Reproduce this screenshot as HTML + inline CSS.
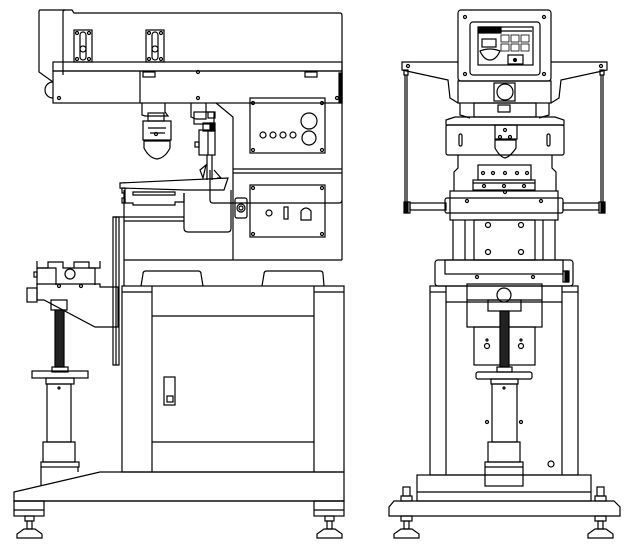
<!DOCTYPE html>
<html><head><meta charset="utf-8"><style>
html,body{margin:0;padding:0;background:#fff;width:633px;height:551px;overflow:hidden}
svg{display:block}
</style></head><body>
<svg width="633" height="551" viewBox="0 0 633 551" xmlns="http://www.w3.org/2000/svg" fill="none" stroke="#000" stroke-width="1.2" font-family="Liberation Sans, sans-serif">
<!-- ================= LEFT MACHINE ================= -->
<path d="M63 75 L63 12 Q63 10 65 10 L40 10 Q39 10 39 12 L39 72 L53 82"/>
<path d="M63 10 L72 10 L74 13 L340 13 Q342 13 342 16 L342 260"/>
<rect x="53" y="62" width="289" height="9"/>
<rect x="53" y="71" width="289" height="32"/>
<line x1="140" y1="71" x2="140" y2="103"/>
<path d="M53 82 A7 7 0 0 0 53 98"/>
<rect x="339" y="73" width="3" height="30" fill="#000"/>
<circle cx="59" cy="98" r="1.5"/><circle cx="198" cy="98" r="1.5"/><circle cx="337" cy="98" r="1.5"/><circle cx="198" cy="72" r="1.5"/>
<rect x="143" y="72" width="12" height="5"/><rect x="305" y="72" width="12" height="5"/>
<g><rect x="74" y="30" width="18" height="32"/><rect x="80" y="32" width="6" height="28" rx="3"/><circle cx="83" cy="49" r="3"/>
<circle cx="77" cy="33" r="1.5"/><circle cx="89" cy="33" r="1.5"/><circle cx="77" cy="59" r="1.5"/><circle cx="89" cy="59" r="1.5"/></g>
<g transform="translate(72 0)"><rect x="74" y="30" width="18" height="32"/><rect x="80" y="32" width="6" height="28" rx="3"/><circle cx="83" cy="49" r="3"/>
<circle cx="77" cy="33" r="1.5"/><circle cx="89" cy="33" r="1.5"/><circle cx="77" cy="59" r="1.5"/><circle cx="89" cy="59" r="1.5"/></g>
<rect x="250" y="98" width="75" height="55"/>
<circle cx="253" cy="103" r="1.5"/><circle cx="322" cy="103" r="1.5"/><circle cx="253" cy="150" r="1.5"/><circle cx="322" cy="150" r="1.5"/>
<circle cx="309" cy="121" r="8"/><circle cx="309" cy="138" r="7"/>
<circle cx="263" cy="135" r="3"/><circle cx="273" cy="135" r="3"/><circle cx="283" cy="135" r="3"/><circle cx="293" cy="135" r="3"/>
<path d="M216 103 L233 117 L233 260"/>
<line x1="233" y1="169" x2="342" y2="169"/><line x1="233" y1="173" x2="342" y2="173"/>
<path d="M210 170 L210 200 Q210 203 213 203 L339 203 Q342 203 342 200"/>
<rect x="250" y="185" width="75" height="52"/>
<circle cx="253" cy="188" r="1.5"/><circle cx="322" cy="188" r="1.5"/><circle cx="253" cy="234" r="1.5"/><circle cx="322" cy="234" r="1.5"/>
<circle cx="269" cy="213" r="3"/><rect x="284" y="207" width="4" height="12"/>
<path d="M301 220 L301 211 Q306 205 311 211 L311 220 Z"/>
<rect x="235" y="198" width="12" height="20" rx="2"/><circle cx="241" cy="208" r="4"/><circle cx="241" cy="208" r="2"/>
<path d="M142 103 L142 115 L145 116 L168 116 L165 112 L165 103"/>
<rect x="148" y="113" width="16" height="8"/>
<path d="M143 121 L171 121 L171 140 L143 140 Z"/>
<path d="M148 128 L166 128 M150 133 L165 133"/><circle cx="156" cy="134" r="1.5"/>
<path d="M144 141 L170 141 L170 148 Q165 158 157 159 Q149 158 144 148 Z"/>
<path d="M191 103 L191 117 L196 119 L206 119 L206 103"/>
<rect x="194" y="112" width="20" height="12"/><rect x="208" y="112" width="7" height="6"/>
<rect x="203" y="123" width="12" height="8"/><rect x="210" y="123" width="4" height="8" fill="#000"/>
<rect x="199" y="130" width="16" height="25"/><line x1="208" y1="131" x2="208" y2="155"/>
<rect x="195" y="142" width="4" height="5"/>
<path d="M207 155 L207 180 M212 155 L212 180"/>
<path d="M200 170 L206 165 L203 178 Z"/><path d="M214 170 L221 178 L217 178"/>
<path d="M120 183 L228 178 L224 190 L186 190 L120 188 Z"/>
<rect x="122" y="188" width="3" height="5"/><rect x="122" y="198" width="3" height="5"/>
<path d="M133 192 L175 192 L175 195 L133 195 Z"/>
<path d="M125 193 L125 203 L133 203 L133 205 L175 205 L175 202 L184 202 L184 193"/>
<path d="M184 193 L184 228 Q184 232 188 232 L228 232 Q231 232 231 228 L231 190"/>
<path d="M113 217 L113 365 L119 365 L119 217 Z"/>
<line x1="116" y1="217" x2="116" y2="365"/>
<line x1="113" y1="217" x2="184" y2="217"/><line x1="124" y1="221" x2="184" y2="221"/>
<line x1="124" y1="190" x2="124" y2="286"/>
<line x1="124" y1="260" x2="342" y2="260"/>
<path d="M141 286 L143 274 Q143 271 146 271 L198 271 Q201 271 201 274 L203 286"/>
<path d="M262 286 L264 274 Q264 271 267 271 L320 271 Q323 271 323 274 L324 286"/>
<rect x="122" y="286" width="222" height="186"/>
<line x1="152" y1="286" x2="152" y2="472"/><line x1="314" y1="286" x2="314" y2="472"/>
<line x1="122" y1="292" x2="152" y2="292"/><line x1="314" y1="292" x2="344" y2="292"/>
<line x1="152" y1="316" x2="314" y2="316"/><line x1="152" y1="442" x2="314" y2="442"/>
<rect x="164" y="377" width="11" height="28"/><rect x="167" y="396" width="6" height="6"/>
<path d="M14 501 L14 492 L100 472 L344 472 L344 501 Z"/>
<line x1="14" y1="501" x2="344" y2="501"/>
<rect x="14" y="501" width="30" height="15"/><line x1="14" y1="510" x2="44" y2="510"/>
<rect x="314" y="501" width="30" height="15"/><line x1="314" y1="510" x2="344" y2="510"/>
<g><rect x="25" y="516" width="9" height="5"/><rect x="27" y="521" width="5" height="8"/><path d="M17 538 L17 534 L24 529 L35 529 L42 534 L42 538 Z"/></g>
<g transform="translate(300 0)"><rect x="25" y="516" width="9" height="5"/><rect x="27" y="521" width="5" height="8"/><path d="M17 538 L17 534 L24 529 L35 529 L42 534 L42 538 Z"/></g>
<path d="M37 261 L37 268 L48 268 L48 262 L63 262 L63 268 L74 268 L74 262 L89 262 L89 268 L100 268 L100 261"/>
<path d="M37 268 L56 268 L56 285 M74 268 L95 268 L95 285 M37 268 L37 285"/>
<circle cx="70" cy="274" r="5"/><rect x="34" y="272" width="3" height="5"/>
<path d="M37 284 L100 284 L100 287 L118 287 L118 327 L95 327 L44 300 L37 300 Z"/>
<rect x="27" y="288" width="10" height="14"/>
<circle cx="59" cy="286" r="1.5"/><circle cx="81" cy="286" r="1.5"/>
<rect x="51" y="300" width="16" height="10"/>
<rect x="55" y="310" width="9" height="57" fill="#222"/>
<rect x="52" y="367" width="16" height="5"/>
<rect x="32" y="371" width="56" height="7"/>
<rect x="46" y="378" width="28" height="6"/>
<rect x="47" y="384" width="24" height="58"/><circle cx="59" cy="388" r="1"/>
<rect x="43" y="442" width="32" height="20"/>
<rect x="41" y="462" width="38" height="5"/>
<path d="M41 467 L41 486 M78 467 L78 472"/>

<!-- ================= RIGHT MACHINE ================= -->
<rect x="458" y="10" width="93" height="71" rx="3"/>
<circle cx="465" cy="17" r="1.5"/><circle cx="544" cy="17" r="1.5"/><circle cx="465" cy="74" r="1.5"/><circle cx="544" cy="74" r="1.5"/>
<rect x="470" y="22" width="70" height="53" rx="3"/>
<rect x="478" y="27" width="55" height="38"/>
<rect x="479" y="27" width="22" height="6" fill="#000"/>
<line x1="501" y1="31" x2="532" y2="31"/>
<rect x="482" y="39" width="14" height="8"/>
<path d="M480 51 Q490 47 500 51 Q496 60 490 60 Q484 60 480 51 Z"/>
<g stroke-width="0.8">
<rect x="501" y="35" width="8" height="7"/><rect x="511" y="35" width="8" height="7"/><rect x="521" y="35" width="8" height="7"/>
<rect x="501" y="44" width="8" height="7"/><rect x="511" y="44" width="8" height="7"/><rect x="521" y="44" width="8" height="7"/>
</g>
<rect x="508" y="55" width="15" height="9"/><circle cx="515" cy="60" r="1.5" fill="#000"/>
<path d="M458 62 L402 62 L402 70 L448 80 L450 98 L458 103"/>
<path d="M551 62 L607 62 L607 70 L561 80 L559 98 L551 103"/>
<circle cx="408" cy="66" r="1.5"/><circle cx="601" cy="66" r="1.5"/>
<rect x="404" y="70" width="4" height="5"/><rect x="600" y="70" width="4" height="5"/>
<line x1="407" y1="75" x2="407" y2="202"/><line x1="603" y1="75" x2="603" y2="202"/>
<line x1="405" y1="75" x2="405" y2="202"/><line x1="601" y1="75" x2="601" y2="202"/>
<rect x="404" y="202" width="6" height="11"/><rect x="405" y="202" width="3" height="11" fill="#000"/>
<rect x="599" y="202" width="6" height="11"/><rect x="601" y="202" width="3" height="11" fill="#000"/>
<rect x="410" y="203" width="36" height="7"/><rect x="563" y="203" width="36" height="7"/>
<rect x="458" y="81" width="93" height="22"/>
<rect x="494" y="83" width="21" height="18"/><circle cx="505" cy="92" r="8"/>
<path d="M460 103 L460 115 L470 118 M549 103 L549 115 L539 118"/>
<rect x="474" y="103" width="62" height="14"/><rect x="498" y="105" width="12" height="7"/>
<path d="M446 120 L455 117 L555 117 L564 120 L564 125 L446 125 Z"/>
<rect x="446" y="125" width="118" height="30" rx="2"/>
<rect x="459" y="134" width="3" height="12" rx="1.5"/><rect x="547" y="134" width="3" height="12" rx="1.5"/>
<rect x="495" y="125" width="22" height="14"/><circle cx="505" cy="130" r="1.5"/><circle cx="500" cy="137" r="1.5"/><circle cx="510" cy="137" r="1.5"/>
<path d="M495 140 L516 140 L516 148 Q510 157 505 158 Q500 157 495 148 Z"/>
<path d="M458 155 L458 168 L454 172 L454 191 M552 155 L552 168 L556 172 L556 191"/>
<rect x="478" y="165" width="53" height="15"/>
<circle cx="483" cy="173" r="1.5"/><circle cx="493" cy="173" r="1.5"/><circle cx="505" cy="173" r="1.5"/><circle cx="517" cy="173" r="1.5"/><circle cx="527" cy="173" r="1.5"/>
<rect x="473" y="180" width="62" height="10"/><line x1="473" y1="183" x2="535" y2="183"/>
<circle cx="484" cy="186" r="1.5"/><circle cx="504" cy="186" r="1.5"/><circle cx="524" cy="186" r="1.5"/>
<rect x="445" y="198" width="118" height="15" rx="2"/>
<rect x="450" y="191" width="108" height="29"/>
<circle cx="467" cy="201" r="1.5"/><circle cx="541" cy="201" r="1.5"/><circle cx="505" cy="192" r="1.5"/>
<line x1="453" y1="220" x2="453" y2="260"/><line x1="465" y1="220" x2="465" y2="260"/>
<line x1="543" y1="220" x2="543" y2="260"/><line x1="555" y1="220" x2="555" y2="260"/>
<rect x="474" y="220" width="61" height="40"/>
<circle cx="488" cy="225" r="2.5"/><circle cx="521" cy="225" r="2.5"/><circle cx="488" cy="252" r="2.5"/><circle cx="521" cy="252" r="2.5"/>
<rect x="435" y="260" width="138" height="26" rx="3"/>
<rect x="445" y="260" width="118" height="14"/>
<rect x="563" y="271" width="6" height="11"/><rect x="565" y="271" width="3" height="11" fill="#000"/>
<circle cx="477" cy="277" r="1.5"/><circle cx="533" cy="277" r="1.5"/>
<rect x="430" y="286" width="148" height="189"/>
<line x1="446" y1="286" x2="446" y2="475"/><line x1="562" y1="286" x2="562" y2="475"/>
<line x1="430" y1="292" x2="446" y2="292"/><line x1="562" y1="292" x2="578" y2="292"/>
<line x1="446" y1="302" x2="562" y2="302"/>
<rect x="467" y="284" width="75" height="43"/><line x1="467" y1="300" x2="542" y2="300"/>
<circle cx="504" cy="295" r="7" fill="#fff"/>
<rect x="488" y="300" width="33" height="11"/>
<rect x="474" y="327" width="61" height="38"/>
<circle cx="487" cy="346" r="2.5"/><circle cx="521" cy="346" r="2.5"/><circle cx="487" cy="340" r="1"/><circle cx="521" cy="340" r="1"/>
<rect x="500" y="311" width="9" height="56" fill="#222"/>
<rect x="497" y="367" width="15" height="5"/>
<rect x="476" y="372" width="56" height="7" rx="2"/>
<rect x="491" y="379" width="27" height="5"/>
<rect x="492" y="384" width="25" height="58"/><circle cx="504" cy="388" r="1"/>
<circle cx="487" cy="422" r="1.5"/><circle cx="521" cy="422" r="1.5"/>
<rect x="488" y="442" width="32" height="20"/>
<rect x="485" y="462" width="38" height="24"/><line x1="485" y1="467" x2="523" y2="467"/>
<circle cx="551" cy="464" r="3"/>
<rect x="417" y="475" width="174" height="26"/><line x1="417" y1="492" x2="591" y2="492"/>
<path d="M394 501 L614 501 L620 507 L620 516 L389 516 L389 507 Z"/>
<g><rect x="403" y="487" width="7" height="9"/><rect x="401" y="496" width="11" height="5"/>
<rect x="401" y="516" width="11" height="5"/><rect x="404" y="521" width="5" height="8"/><path d="M394 538 L394 534 L401 529 L412 529 L419 534 L419 538 Z"/></g>
<g transform="translate(194 0)"><rect x="403" y="487" width="7" height="9"/><rect x="401" y="496" width="11" height="5"/>
<rect x="401" y="516" width="11" height="5"/><rect x="404" y="521" width="5" height="8"/><path d="M394 538 L394 534 L401 529 L412 529 L419 534 L419 538 Z"/></g>
</svg>
</body></html>
